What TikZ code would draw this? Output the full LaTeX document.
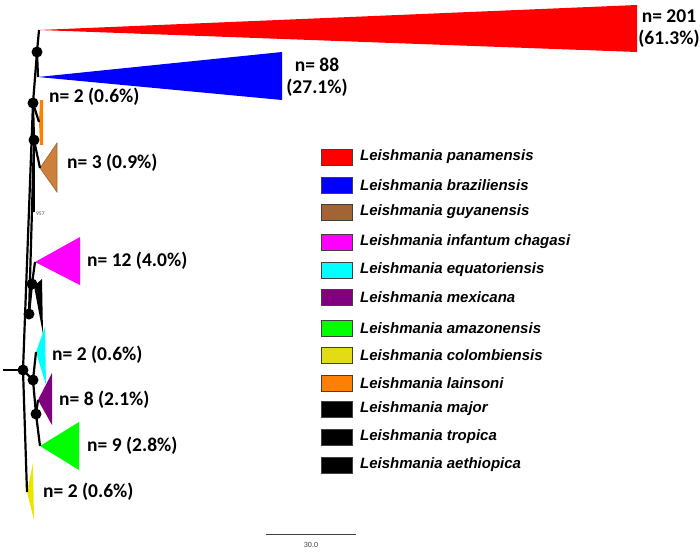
\documentclass[tikz,border=0pt]{standalone}
\usepackage{fontspec}
\newfontfamily\labfont{Carlito}
\newfontfamily\legfont{Liberation Sans}
\definecolor{cred}{RGB}{255,0,0}
\definecolor{cblue}{RGB}{0,0,255}
\definecolor{cbrown}{RGB}{205,128,60}
\definecolor{lbrown}{RGB}{160,100,55}
\definecolor{cyel}{RGB}{235,230,0}
\definecolor{lyel}{RGB}{225,220,20}
\definecolor{corange}{RGB}{255,128,0}
\definecolor{cpurple}{RGB}{128,0,128}
\definecolor{cmag}{RGB}{255,0,255}
\definecolor{ccyan}{RGB}{0,255,255}
\definecolor{cgreen}{RGB}{0,255,0}
\begin{document}
\begin{tikzpicture}[x=1pt,y=-1pt,
  br/.style={line width=2.2pt,black},
  dot/.style={circle,fill=black,inner sep=0pt,minimum size=11pt},
  cnt/.style={font=\labfont\bfseries\fontsize{19.5}{22}\selectfont,inner sep=0pt,text=black},
  legbox/.style={draw=black!75,line width=0.8pt,minimum width=31pt,minimum height=16pt,inner sep=0pt},
  legtxt/.style={font=\legfont\bfseries\itshape\fontsize{15}{18}\selectfont,anchor=west,inner sep=0pt,text=black}]
\useasboundingbox (0,0) rectangle (700,552);
% apexes / tips
\coordinate (aRed) at (39,30);
\coordinate (aBlue) at (38,77);
\coordinate (aOr) at (39,122);
\coordinate (aBr) at (40,168);
\coordinate (t957) at (34,212);
\coordinate (aMag) at (35,262);
\coordinate (aBlk) at (34,286);
\coordinate (aCy) at (36,352);
\coordinate (aPu) at (38,400);
\coordinate (aGr) at (40,446);
\coordinate (aYe) at (27,492);
\coordinate (stub) at (3,370);
% wedges
\fill[cred] (aRed) -- (637,5) -- (637,52) -- cycle;
\fill[cblue] (aBlue) -- (282,52) -- (282,100) -- cycle;
\fill[corange] (aOr) -- (40,100) -- (43,100) -- (43,145) -- (40,145) -- cycle;
\filldraw[fill=cbrown,draw=lbrown,line width=0.6pt] (aBr) -- (57,143) -- (57,192) -- cycle;
\fill[cmag] (aMag) -- (80,237) -- (80,285) -- cycle;
\fill[black] (aBlk) -- (42,279) -- (43,334) -- cycle;
\fill[ccyan] (aCy) -- (45,327) -- (46,385) -- cycle;
\fill[cpurple] (aPu) -- (52,373) -- (52,425) -- cycle;
\fill[cgreen] (aGr) -- (79,422) -- (79,470) -- cycle;
\fill[cyel] (aYe) -- (33,463) -- (34,520) -- cycle;
% internal nodes
\node[dot] (d1) at (37,52) {};
\node[dot] (d2) at (33,103) {};
\node[dot] (d3) at (34,140) {};
\node[dot] (d4) at (32,284) {};
\node[dot] (d5) at (29,314) {};
\node[dot] (r) at (23,370) {};
\node[dot] (d6) at (33,380) {};
\node[dot] (d7) at (36,414) {};
% branches
\draw[br] (stub) -- (r.center);
\draw[br] (r.center) -- (d2.center);
\draw[br] (r.center) -- (aYe);
\draw[br] (r.center) -- (d6.center);
\draw[br] (d2.center) -- (d1.center);
\draw[br] (d1.center) -- (aRed);
\draw[br] (d1.center) -- (aBlue);
\draw[br] (d2.center) -- (d3.center);
\draw[br] (d2.center) -- (aOr);
\draw[br] (d3.center) -- (aBr);
\draw[br] (d3.center) -- (t957);
\draw[br] (d3.center) -- (d5.center);
\draw[br] (d5.center) -- (d4.center);
\draw[br] (d4.center) -- (aMag);
\draw[br] (d4.center) -- (aBlk);
\draw[br] (d6.center) -- (aCy);
\draw[br] (d6.center) -- (d7.center);
\draw[br] (d7.center) -- (aPu);
\draw[br] (d7.center) -- (aGr);
\node[font=\labfont\fontsize{5.5}{6}\selectfont,anchor=west,inner sep=0pt,text=black!70] (l957) at (36,214) {957};
% counts
\node[cnt,align=center] (nRed) at (669,29) {n= 201\\(61.3\%)};
\node[cnt,align=center] (nBlue) at (317,77) {n= 88\\(27.1\%)};
\node[cnt,anchor=west] (nOr) at (49,97) {n= 2 (0.6\%)};
\node[cnt,anchor=west] (nBr) at (67,163) {n= 3 (0.9\%)};
\node[cnt,anchor=west] (nMag) at (87,261) {n= 12 (4.0\%)};
\node[cnt,anchor=west] (nCy) at (52,355) {n= 2 (0.6\%)};
\node[cnt,anchor=west] (nPu) at (59,400) {n= 8 (2.1\%)};
\node[cnt,anchor=west] (nGr) at (87,446) {n= 9 (2.8\%)};
\node[cnt,anchor=west] (nYe) at (43,492) {n= 2 (0.6\%)};
% legend
\foreach \y/\c/\t [count=\i] in {
  157/cred/panamensis, 185/cblue/braziliensis, 212/lbrown/guyanensis,
  242/cmag/infantum chagasi, 270/ccyan/equatoriensis, 297/cpurple/mexicana,
  328/cgreen/amazonensis, 355/lyel/colombiensis, 383/corange/lainsoni,
  409/black/major, 437/black/tropica, 465/black/aethiopica} {
  \node[legbox,fill=\c] (box\i) at (337,\y) {};
  \node[legtxt] (leg\i) at (360,\y) {Leishmania \t};
}
% scale bar
\coordinate (sb1) at (266,534);
\coordinate (sb2) at (356,534);
\draw[line width=0.8pt,black!75] (sb1) -- (sb2);
\node[font=\labfont\fontsize{8}{9}\selectfont,text=black!75,inner sep=0pt] (sbl) at (311,545) {30.0};
\end{tikzpicture}
\end{document}
